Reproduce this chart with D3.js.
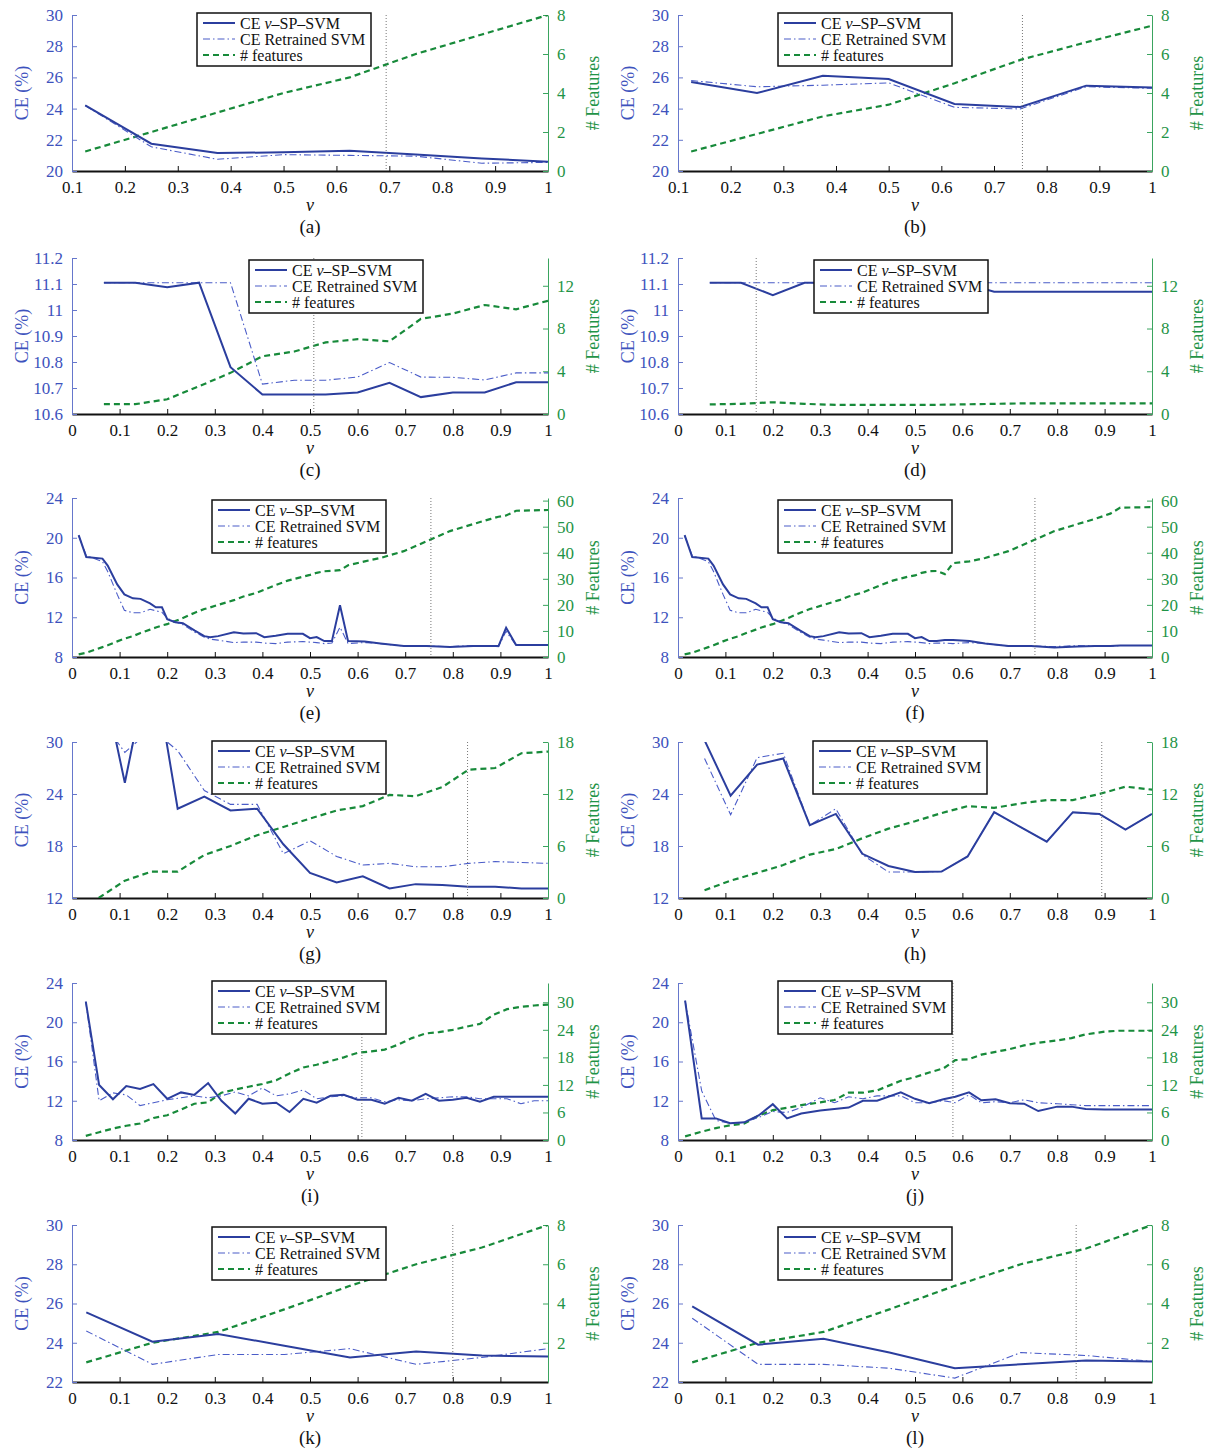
<!DOCTYPE html>
<html>
<head>
<meta charset="utf-8">
<script src="https://cdn.jsdelivr.net/npm/d3@7"></script>
<style>
  body { margin: 0; background: #fff; }
  text { font-family: "Liberation Serif", "Times New Roman", serif; }
</style>
</head>
<body>
<svg id="fig" width="1210" height="1451"></svg>
<script>
// ---- data ----
// (a), (b)
const nuAB = [0.125, 0.25, 0.375, 0.5, 0.625, 0.75, 0.875, 1];
const ceSpA = [24.2, 21.75, 21.15, 21.2, 21.3, 21.05, 20.8, 20.6];
const ceReA = [24.2, 21.55, 20.75, 21.05, 21.0, 20.95, 20.5, 20.55];
const featA = [1, 2, 3, 4, 4.8, 6, 7, 8];
const ceSpB = [25.7, 25.0, 26.1, 25.9, 24.3, 24.1, 25.47, 25.36];
const ceReB = [25.8, 25.4, 25.5, 25.65, 24.08, 23.98, 25.4, 25.3];
const featB = [1, 1.9, 2.8, 3.4, 4.5, 5.7, 6.6, 7.45];

// (c), (d)
const nuCD = [0.067, 0.133, 0.2, 0.267, 0.333, 0.4, 0.467, 0.533, 0.6, 0.667, 0.733, 0.8, 0.867, 0.933, 1];
const ceSpC = [11.105, 11.105, 11.088, 11.105, 10.78, 10.675, 10.675, 10.675, 10.683, 10.72, 10.665, 10.683, 10.683, 10.722, 10.722];
const ceReC = [11.105, 11.105, 11.105, 11.105, 11.105, 10.715, 10.73, 10.73, 10.742, 10.798, 10.742, 10.741, 10.731, 10.758, 10.758];
const featC = [0.92, 0.92, 1.38, 2.6, 3.85, 5.4, 5.85, 6.7, 7.0, 6.8, 8.9, 9.4, 10.2, 9.8, 10.6];
const ceSpD = [11.105, 11.105, 11.057, 11.105, 11.105, 11.105, 11.105, 11.105, 11.105, 11.07, 11.07, 11.07, 11.07, 11.07, 11.07];
const ceReD = [11.105, 11.105, 11.105, 11.105, 11.105, 11.105, 11.105, 11.105, 11.105, 11.105, 11.105, 11.105, 11.105, 11.105, 11.105];
const featD = [0.9, 0.95, 1.1, 0.95, 0.85, 0.85, 0.85, 0.85, 0.9, 0.95, 1.0, 1.0, 1.0, 1.0, 1.0];

// (e), (f)
const nuEF = [0.014, 0.03, 0.064, 0.075, 0.095, 0.11, 0.128, 0.144, 0.164, 0.176, 0.189, 0.2, 0.217, 0.233,
  0.258, 0.278, 0.29, 0.307, 0.34, 0.36, 0.387, 0.404, 0.428, 0.453, 0.485, 0.5, 0.514, 0.53, 0.546, 0.563,
  0.58, 0.615, 0.648, 0.697, 0.745, 0.794, 0.843, 0.88, 0.896, 0.912, 0.933, 1];
const ceSpE = [20.26, 18.06, 17.9, 17.2, 15.3, 14.3, 13.9, 13.85, 13.4, 13.0, 13.0, 11.8, 11.5, 11.4,
  10.65, 10.1, 10.0, 10.1, 10.5, 10.37, 10.4, 10.0, 10.13, 10.33, 10.33, 9.9, 10.0, 9.6, 9.6, 13.2,
  9.6, 9.55, 9.35, 9.1, 9.1, 9.0, 9.1, 9.1, 9.1, 10.95, 9.2, 9.2];
const ceReE = [20.2, 18.2, 17.6, 16.6, 14.3, 12.7, 12.45, 12.45, 12.8, 12.65, 12.5, 11.9, 11.55, 11.25,
  10.5, 10.0, 9.8, 9.7, 9.45, 9.5, 9.5, 9.4, 9.35, 9.5, 9.55, 9.5, 9.45, 9.35, 9.4, 11.0,
  9.35, 9.45, 9.35, 9.1, 9.1, 9.05, 9.15, 9.1, 9.05, 10.6, 9.15, 9.15];
const featE = [1, 1.6, 3.8, 4.5, 6, 7.0, 8.0, 9.2, 10.5, 11.3, 12.1, 12.6, 13.8, 15.0,
  17.0, 18.4, 19.0, 20.0, 21.8, 23.2, 24.6, 25.8, 27.6, 29.3, 30.8, 31.5, 32.3, 32.9, 33.1, 33.3,
  35.2, 36.7, 38.0, 40.6, 44.4, 48.3, 51.0, 53.0, 53.8, 54.3, 56.1, 56.4];
const ceSpF = [20.26, 18.06, 17.9, 17.2, 15.3, 14.3, 13.9, 13.85, 13.4, 13.0, 13.0, 11.8, 11.5, 11.4,
  10.65, 10.1, 10.0, 10.1, 10.5, 10.37, 10.4, 10.0, 10.13, 10.33, 10.33, 9.9, 10.0, 9.6, 9.6, 9.7,
  9.7, 9.6, 9.35, 9.1, 9.1, 8.95, 9.05, 9.1, 9.1, 9.1, 9.15, 9.15];
const ceReF = [20.2, 18.2, 17.6, 16.6, 14.3, 12.7, 12.45, 12.45, 12.8, 12.65, 12.5, 11.9, 11.55, 11.25,
  10.5, 10.0, 9.8, 9.7, 9.45, 9.5, 9.5, 9.4, 9.35, 9.5, 9.55, 9.5, 9.45, 9.35, 9.4, 9.4,
  9.35, 9.45, 9.35, 9.1, 9.1, 9.05, 9.15, 9.1, 9.05, 9.1, 9.15, 9.15];
const featF = [1, 1.6, 3.8, 4.5, 6, 7.0, 8.0, 9.2, 10.5, 11.3, 12.1, 12.6, 13.8, 15.0,
  17.0, 18.4, 19.0, 20.0, 21.8, 23.2, 24.6, 25.8, 27.6, 29.3, 30.8, 31.3, 32.3, 32.9, 33.0, 31.8,
  36.0, 36.7, 38.0, 40.6, 44.4, 48.3, 51.0, 53.0, 54.0, 55.0, 57.3, 57.5];

// (g), (h)
const nuGH = [0.056, 0.111, 0.167, 0.222, 0.278, 0.333, 0.389, 0.444, 0.5, 0.556, 0.611, 0.667, 0.722, 0.778, 0.833, 0.889, 0.944, 1];
const ceSpG = [39.5, 25.3, 40.4, 22.3, 23.7, 22.1, 22.3, 18.2, 14.9, 13.8, 14.5, 13.1, 13.6, 13.5, 13.3, 13.3, 13.1, 13.1];
const ceReG = [33, 28.8, 31.5, 29.0, 24.4, 22.8, 22.8, 17.1, 18.6, 16.8, 15.8, 16.0, 15.6, 15.6, 16.0, 16.2, 16.1, 16.0];
const featG = [0, 2.0, 3.05, 3.05, 4.96, 6.0, 7.25, 8.2, 9.16, 10.1, 10.6, 11.9, 11.75, 12.8, 14.8, 15.0, 16.7, 16.9];
const ceSpH = [30.2, 23.8, 27.4, 28.1, 20.4, 21.7, 17.1, 15.7, 15.0, 15.05, 16.8, 21.9, 20.2, 18.5, 21.9, 21.7, 19.9, 21.7];
const ceReH = [28.1, 21.6, 28.2, 28.7, 20.4, 22.3, 17.0, 15.0, 15.0, 15.05, 16.8, 21.9, 20.2, 18.5, 21.85, 21.65, 19.9, 21.7];
const featH = [0.9, 2.0, 2.9, 3.8, 5.0, 5.65, 6.9, 8.0, 8.85, 9.8, 10.6, 10.4, 10.9, 11.3, 11.3, 12.0, 12.85, 12.5];

// (i)
const nuI = [0.029, 0.057, 0.086, 0.114, 0.143, 0.171, 0.2, 0.229, 0.257, 0.286, 0.314, 0.343, 0.371, 0.4,
  0.429, 0.457, 0.486, 0.514, 0.543, 0.571, 0.6, 0.629, 0.657, 0.686, 0.714, 0.743, 0.771, 0.8, 0.829,
  0.857, 0.886, 0.914, 0.943, 0.971, 1];
const ceSpI = [22.1, 13.6, 12.15, 13.5, 13.2, 13.7, 12.2, 12.85, 12.6, 13.8, 12.0, 10.7, 12.2, 11.7,
  11.8, 10.85, 12.2, 11.8, 12.5, 12.6, 12.1, 12.1, 11.7, 12.3, 12.0, 12.7, 12.0, 12.1, 12.3,
  11.9, 12.4, 12.4, 12.4, 12.4, 12.4];
const ceReI = [22.1, 12.0, 12.8, 12.6, 11.5, 11.8, 12.1, 12.3, 12.5, 12.3, 12.5, 12.9, 12.5, 13.3,
  12.5, 12.7, 13.1, 12.2, 12.4, 12.5, 12.3, 12.3, 11.9, 12.1, 12.0, 12.2, 12.3, 12.4, 12.4,
  12.2, 12.2, 12.2, 11.7, 12.0, 12.0];
const featI = [0.9, 1.7, 2.5, 3.1, 3.6, 4.8, 5.4, 6.6, 7.9, 8.2, 10.3, 11.0, 11.6, 12.2,
  13.0, 14.5, 15.8, 16.4, 17.2, 18.0, 19.0, 19.3, 19.7, 20.8, 22.2, 23.2, 23.5, 24.0, 24.7,
  25.3, 27.3, 28.5, 29.0, 29.3, 29.5];

// (j)
const nuJ = [0.015, 0.05, 0.08, 0.11, 0.14, 0.17, 0.2, 0.23, 0.26, 0.3, 0.33, 0.36, 0.39, 0.42, 0.47,
  0.5, 0.53, 0.56, 0.585, 0.614, 0.64, 0.67, 0.7, 0.73, 0.76, 0.8, 0.83, 0.86, 0.9, 0.93, 1];
const ceSpJ = [22.2, 10.2, 10.2, 9.7, 9.8, 10.5, 11.65, 10.2, 10.7, 11.0, 11.15, 11.3, 12.0, 12.0, 12.85,
  12.2, 11.75, 12.15, 12.4, 12.85, 12.05, 12.15, 11.75, 11.7, 10.95, 11.4, 11.4, 11.15, 11.1, 11.1, 11.1];
const ceReJ = [22.2, 13.0, 10.0, 9.7, 9.8, 10.3, 10.9, 10.8, 11.3, 12.3, 11.8, 12.4, 12.2, 12.5, 12.5,
  11.8, 11.8, 12.0, 11.8, 12.6, 11.8, 11.9, 11.8, 12.1, 11.8, 11.7, 11.6, 11.5, 11.5, 11.5, 11.5];
const featJ = [0.8, 1.8, 2.6, 3.2, 3.6, 5.3, 6.5, 7.0, 7.6, 8.2, 8.7, 10.3, 10.3, 10.8, 12.9,
  13.7, 14.7, 15.6, 17.4, 17.6, 18.6, 19.2, 19.8, 20.6, 21.2, 21.7, 22.2, 23.0, 23.6, 23.8, 23.8];

// (k), (l)
const nuKL = [0.03, 0.169, 0.307, 0.446, 0.584, 0.723, 0.861, 1];
const ceSpK = [25.55, 24.05, 24.45, 23.85, 23.25, 23.55, 23.35, 23.3];
const ceReK = [24.6, 22.9, 23.4, 23.4, 23.7, 22.9, 23.25, 23.7];
const featK = [1, 2, 2.55, 3.7, 4.9, 6.0, 6.85, 8];
const ceSpL = [25.85, 23.9, 24.2, 23.5, 22.7, 22.9, 23.1, 23.05];
const ceReL = [25.25, 22.9, 22.9, 22.7, 22.2, 23.5, 23.35, 23.05];
const featL = [1, 2, 2.55, 3.7, 4.9, 6.0, 6.8, 8];

// chosen nu (dotted line) per panel
const nuStar = [0.694, 0.754, 0.508, 0.165, 0.754, 0.753, 0.831, 0.894, 0.609, 0.58, 0.8, 0.84];

// tick values
const xTicks01 = [0.1, 0.2, 0.3, 0.4, 0.5, 0.6, 0.7, 0.8, 0.9, 1];
const xTicks0 = [0, 0.1, 0.2, 0.3, 0.4, 0.5, 0.6, 0.7, 0.8, 0.9, 1];
const ceTicksAB = [20, 22, 24, 26, 28, 30];
const ceTicksCD = [10.6, 10.7, 10.8, 10.9, 11, 11.1, 11.2];
const ceTicksEF = [8, 12, 16, 20, 24];
const ceTicksGH = [12, 18, 24, 30];
const ceTicksIJ = [8, 12, 16, 20, 24];
const ceTicksKL = [22, 24, 26, 28, 30];
const fTicksAB = [0, 2, 4, 6, 8];
const fTicksCD = [0, 4, 8, 12];
const fTicksEF = [0, 10, 20, 30, 40, 50, 60];
const fTicksGH = [0, 6, 12, 18];
const fTicksIJ = [0, 6, 12, 18, 24, 30];
const fTicksKL = [2, 4, 6, 8];

// ---- layout ----
const cols = [[72, 548], [678, 1152]];
const rows = [[15, 171], [258, 414], [498, 657], [742, 898], [983, 1140], [1225, 1382]];

const blueText = "#3d52bd";
const blueAxis = "#6677cc";
const blueLine = "#2b3e9e";
const greenText = "#1f9447";
const greenLine = "#178a3a";
const greenAxis = "#3aa45f";

const panels = [
  { tag: "(a)", col: 0, row: 0, nu: nuAB, sp: ceSpA, re: ceReA, feat: featA, xDom: [0.1, 1], xTicks: xTicks01,
    yDom: [20, 30], yTicks: ceTicksAB, fDom: [0, 8], fTicks: fTicksAB, star: nuStar[0], leg: [197, 13] },
  { tag: "(b)", col: 1, row: 0, nu: nuAB, sp: ceSpB, re: ceReB, feat: featB, xDom: [0.1, 1], xTicks: xTicks01,
    yDom: [20, 30], yTicks: ceTicksAB, fDom: [0, 8], fTicks: fTicksAB, star: nuStar[1], leg: [778, 13] },
  { tag: "(c)", col: 0, row: 1, nu: nuCD, sp: ceSpC, re: ceReC, feat: featC, xDom: [0, 1], xTicks: xTicks0,
    yDom: [10.6, 11.2], yTicks: ceTicksCD, fDom: [0, 14.6], fTicks: fTicksCD, star: nuStar[2], leg: [249, 260] },
  { tag: "(d)", col: 1, row: 1, nu: nuCD, sp: ceSpD, re: ceReD, feat: featD, xDom: [0, 1], xTicks: xTicks0,
    yDom: [10.6, 11.2], yTicks: ceTicksCD, fDom: [0, 14.6], fTicks: fTicksCD, star: nuStar[3], leg: [814, 260] },
  { tag: "(e)", col: 0, row: 2, nu: nuEF, sp: ceSpE, re: ceReE, feat: featE, xDom: [0, 1], xTicks: xTicks0,
    yDom: [8, 24], yTicks: ceTicksEF, fDom: [0, 61], fTicks: fTicksEF, star: nuStar[4], leg: [212, 500] },
  { tag: "(f)", col: 1, row: 2, nu: nuEF, sp: ceSpF, re: ceReF, feat: featF, xDom: [0, 1], xTicks: xTicks0,
    yDom: [8, 24], yTicks: ceTicksEF, fDom: [0, 61], fTicks: fTicksEF, star: nuStar[5], leg: [778, 500] },
  { tag: "(g)", col: 0, row: 3, nu: nuGH, sp: ceSpG, re: ceReG, feat: featG, xDom: [0, 1], xTicks: xTicks0,
    yDom: [12, 30], yTicks: ceTicksGH, fDom: [0, 18], fTicks: fTicksGH, star: nuStar[6], leg: [212, 741] },
  { tag: "(h)", col: 1, row: 3, nu: nuGH, sp: ceSpH, re: ceReH, feat: featH, xDom: [0, 1], xTicks: xTicks0,
    yDom: [12, 30], yTicks: ceTicksGH, fDom: [0, 18], fTicks: fTicksGH, star: nuStar[7], leg: [813, 741] },
  { tag: "(i)", col: 0, row: 4, nu: nuI, sp: ceSpI, re: ceReI, feat: featI, xDom: [0, 1], xTicks: xTicks0,
    yDom: [8, 24], yTicks: ceTicksIJ, fDom: [0, 34.2], fTicks: fTicksIJ, star: nuStar[8], leg: [212, 981] },
  { tag: "(j)", col: 1, row: 4, nu: nuJ, sp: ceSpJ, re: ceReJ, feat: featJ, xDom: [0, 1], xTicks: xTicks0,
    yDom: [8, 24], yTicks: ceTicksIJ, fDom: [0, 34.2], fTicks: fTicksIJ, star: nuStar[9], leg: [778, 981] },
  { tag: "(k)", col: 0, row: 5, nu: nuKL, sp: ceSpK, re: ceReK, feat: featK, xDom: [0, 1], xTicks: xTicks0,
    yDom: [22, 30], yTicks: ceTicksKL, fDom: [0, 8], fTicks: fTicksKL, star: nuStar[10], leg: [212, 1227] },
  { tag: "(l)", col: 1, row: 5, nu: nuKL, sp: ceSpL, re: ceReL, feat: featL, xDom: [0, 1], xTicks: xTicks0,
    yDom: [22, 30], yTicks: ceTicksKL, fDom: [0, 8], fTicks: fTicksKL, star: nuStar[11], leg: [778, 1227] }
];

const svg = d3.select("#fig");
const defs = svg.append("defs");
const fmt = d3.format("~g");

panels.forEach((p, i) => drawPanel(p, i));

function drawPanel(p, i) {
  const [x0, x1] = cols[p.col];
  const [y0, y1] = rows[p.row];
  const x = d3.scaleLinear().domain(p.xDom).range([x0, x1]);
  const y = d3.scaleLinear().domain(p.yDom).range([y1, y0]);
  const yf = d3.scaleLinear().domain(p.fDom).range([y1, y0]);
  const g = svg.append("g");

  const clipId = "clip" + i;
  defs.append("clipPath").attr("id", clipId)
    .append("rect").attr("x", x0).attr("y", y0).attr("width", x1 - x0).attr("height", y1 - y0);

  // bottom axis
  const xAxis = g.append("g")
    .attr("transform", `translate(0,${y1})`)
    .call(d3.axisBottom(x).tickValues(p.xTicks).tickFormat(fmt).tickSizeInner(-5).tickSizeOuter(0).tickPadding(10));
  xAxis.select(".domain").attr("stroke", "#111").attr("stroke-width", 2);
  xAxis.selectAll(".tick line").attr("stroke", "#111");
  xAxis.selectAll("text").attr("font-size", 17).attr("fill", "#111").attr("font-family", "Liberation Serif");

  // left axis (CE)
  const yAxis = g.append("g")
    .attr("transform", `translate(${x0},0)`)
    .call(d3.axisLeft(y).tickValues(p.yTicks).tickFormat(fmt).tickSizeInner(-5).tickSizeOuter(0).tickPadding(9));
  yAxis.select(".domain").attr("stroke", blueAxis);
  yAxis.selectAll(".tick line").attr("stroke", blueAxis);
  yAxis.selectAll("text").attr("font-size", 17).attr("fill", blueText).attr("font-family", "Liberation Serif");

  // right axis (# features)
  const fAxis = g.append("g")
    .attr("transform", `translate(${x1},0)`)
    .call(d3.axisRight(yf).tickValues(p.fTicks).tickFormat(fmt).tickSizeInner(-5).tickSizeOuter(0).tickPadding(9));
  fAxis.select(".domain").attr("stroke", greenAxis);
  fAxis.selectAll(".tick line").attr("stroke", greenAxis);
  fAxis.selectAll("text").attr("font-size", 17).attr("fill", greenText).attr("font-family", "Liberation Serif");

  // axis titles
  const midY = (y0 + y1) / 2;
  g.append("text")
    .attr("transform", `translate(${x0 - 50},${midY}) rotate(-90)`)
    .attr("text-anchor", "middle").attr("dy", "0.35em")
    .attr("font-size", 18).attr("fill", blueText)
    .text("CE (%)");
  g.append("text")
    .attr("transform", `translate(${x1 + 45},${midY}) rotate(-90)`)
    .attr("text-anchor", "middle").attr("dy", "0.35em")
    .attr("font-size", 18).attr("fill", greenText)
    .text("# Features");
  g.append("text")
    .attr("x", (x0 + x1) / 2).attr("y", y1 + 34).attr("dy", "0.35em")
    .attr("text-anchor", "middle").attr("font-size", 18).attr("font-style", "italic").attr("fill", "#111")
    .text("ν");
  g.append("text")
    .attr("x", (x0 + x1) / 2).attr("y", y1 + 55).attr("dy", "0.35em")
    .attr("text-anchor", "middle").attr("font-size", 19).attr("fill", "#111")
    .text(p.tag);

  // series
  const plot = g.append("g").attr("clip-path", `url(#${clipId})`);
  const lineCE = d3.line().x((d, k) => x(p.nu[k])).y(d => y(d));
  const lineF = d3.line().x((d, k) => x(p.nu[k])).y(d => yf(d));

  plot.append("path").datum(p.feat)
    .attr("d", lineF).attr("fill", "none")
    .attr("stroke", greenLine).attr("stroke-width", 2.2).attr("stroke-dasharray", "6,4");
  plot.append("path").datum(p.re)
    .attr("d", lineCE).attr("fill", "none")
    .attr("stroke", "#4a5cc8").attr("stroke-width", 1.1).attr("stroke-dasharray", "7,3,1.5,3");
  plot.append("path").datum(p.sp)
    .attr("d", lineCE).attr("fill", "none")
    .attr("stroke", blueLine).attr("stroke-width", 2);

  // chosen nu
  g.append("line")
    .attr("x1", x(p.star)).attr("x2", x(p.star))
    .attr("y1", y0).attr("y2", y1)
    .attr("stroke", "#777").attr("stroke-width", 1).attr("stroke-dasharray", "1,2");

  drawLegend(g, p.leg[0], p.leg[1]);
}

function drawLegend(g, lx, ly) {
  const lg = g.append("g").attr("transform", `translate(${lx},${ly})`);
  lg.append("rect").attr("width", 174).attr("height", 53)
    .attr("fill", "#fff").attr("stroke", "#111").attr("stroke-width", 1.5);
  const items = [
    { stroke: blueLine, w: 2, dash: null },
    { stroke: "#4a5cc8", w: 1.1, dash: "7,3,1.5,3" },
    { stroke: greenLine, w: 2.2, dash: "6,4" }
  ];
  items.forEach((it, k) => {
    const yy = 10 + k * 16;
    lg.append("line").attr("x1", 6).attr("x2", 38).attr("y1", yy).attr("y2", yy)
      .attr("stroke", it.stroke).attr("stroke-width", it.w)
      .attr("stroke-dasharray", it.dash);
  });
  const t1 = lg.append("text").attr("x", 43).attr("y", 10).attr("dy", "0.35em").attr("font-size", 16).attr("fill", "#111");
  t1.append("tspan").text("CE ");
  t1.append("tspan").attr("font-style", "italic").text("ν");
  t1.append("tspan").text("–SP–SVM");
  lg.append("text").attr("x", 43).attr("y", 26).attr("dy", "0.35em").attr("font-size", 16).attr("fill", "#111")
    .text("CE Retrained SVM");
  lg.append("text").attr("x", 43).attr("y", 42).attr("dy", "0.35em").attr("font-size", 16).attr("fill", "#111")
    .text("# features");
}
</script>
</body>
</html>
